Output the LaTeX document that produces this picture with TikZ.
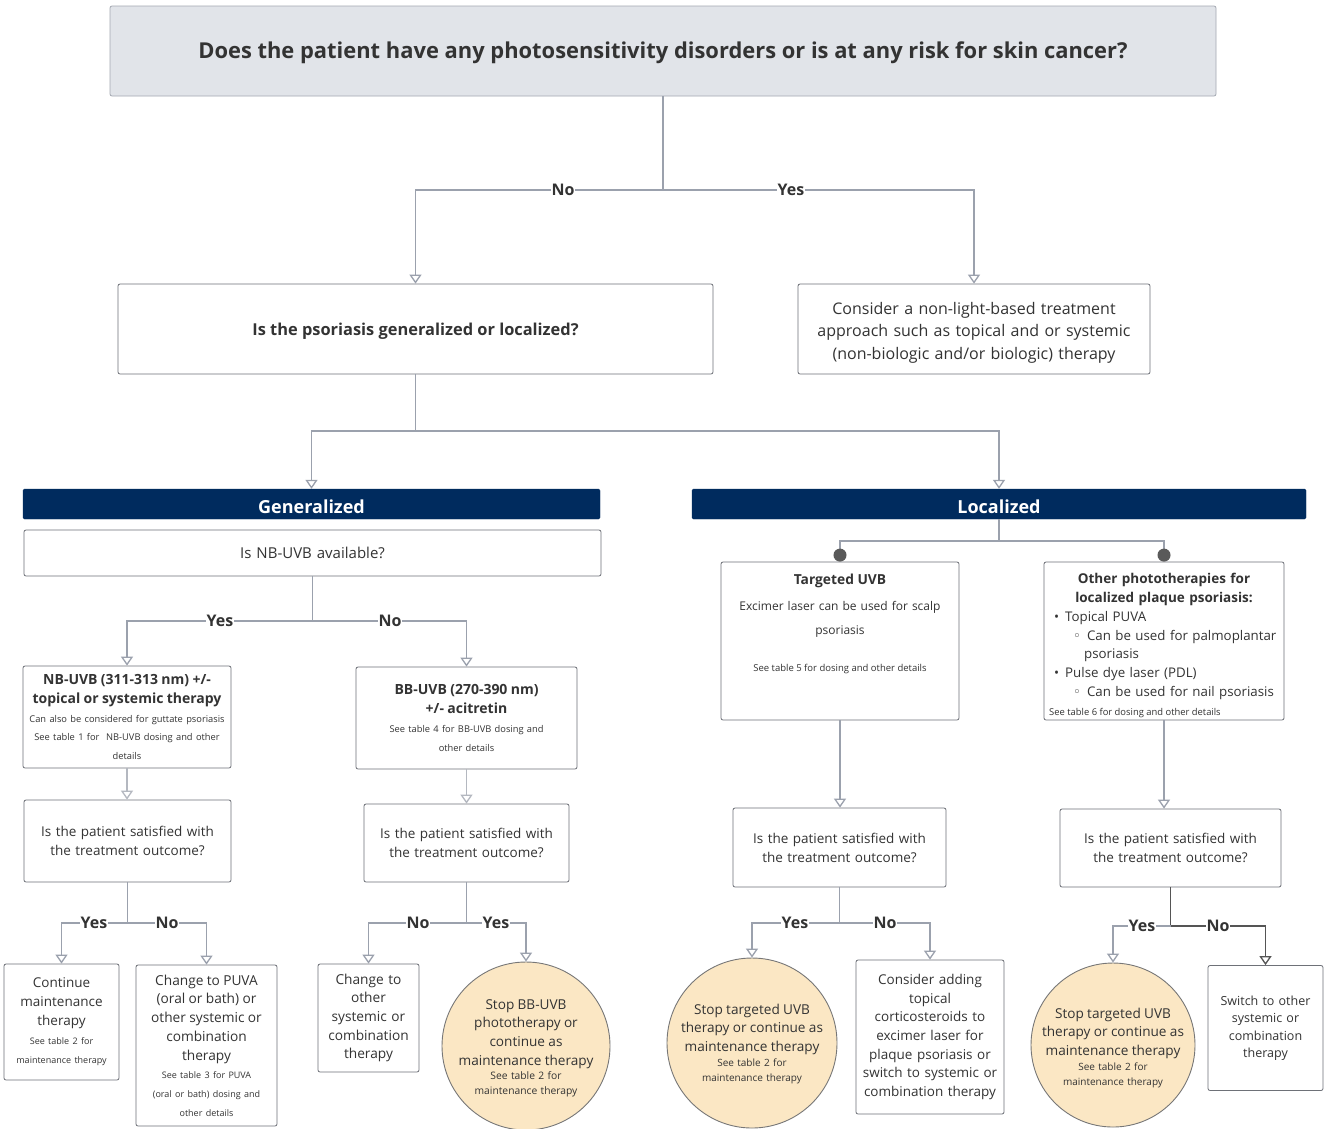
\documentclass[tikz,border=0pt]{standalone}
\usepackage{fontspec}
\setmainfont{Open Sans}
\newfontfamily\dejavu{DejaVu Sans}
\usetikzlibrary{arrows.meta}
\definecolor{linec}{HTML}{9BA1AD}
\definecolor{linel}{HTML}{B4B8C0}
\definecolor{lined}{HTML}{555555}
\definecolor{boxc}{HTML}{6E7178}
\definecolor{textc}{HTML}{333333}
\definecolor{topfill}{HTML}{E1E4E9}
\definecolor{topdraw}{HTML}{A3A8B1}
\definecolor{navy}{HTML}{002B5E}
\definecolor{peach}{HTML}{FBE7C4}
\definecolor{circc}{HTML}{777777}
\definecolor{dotc}{HTML}{5A5A5A}
\newcommand\fs[2]{\fontsize{#1}{#2}\selectfont}
\begin{document}
\begin{tikzpicture}[x=1pt,y=-1pt,
 box/.style={draw=boxc,line width=0.8pt,rounded corners=2pt,fill=white,text=textc,align=center,inner sep=0pt},
 bx/.style n args={2}{minimum width=#1pt,minimum height=#2pt,text width=#1pt-6pt},
 conn/.style={draw=linec,line width=1.3pt},
 arr/.style={-{Triangle[open,length=9pt,width=12pt]}},
 dotarr/.style={-{Circle[length=13pt,color=dotc]}},
 lbl/.style={fill=white,text=textc,font=\fs{16}{18}\bfseries,inner sep=1pt},
 txt/.style={text=textc,align=center,inner sep=0pt},
 hdr/.style={fill=navy,draw=navy,rounded corners=1.5pt,inner sep=0pt},
 hdrt/.style={text=white,font=\fs{18}{20}\bfseries,inner sep=0pt},
 circ/.style={circle,draw=circc,line width=0.9pt,fill=peach,inner sep=0pt}]
\useasboundingbox[fill=white] (0,0) rectangle (1324,1128);

% boxes
\node[box,bx={1106}{90},fill=topfill,draw=topdraw] (top) at (663,51) {};
\node[txt,font=\fs{21.9}{24}\bfseries] (topt) at (663,53) {Does the patient have any photosensitivity disorders or is at any risk for skin cancer?};
\node[box,bx={595}{90}] (psor) at (415.5,329) {};
\node[txt,font=\fs{16.4}{20}\bfseries] (psort) at (415.5,331.5) {Is the psoriasis generalized or localized?};
\node[box,bx={352}{90}] (nonlight) at (974,329) {};
\node[txt,text width=348pt,font=\fs{16}{22.5}] (nonlightt) at (974,332.5) {Consider a non-light-based treatment\\ approach such as topical and or systemic\\ (non-biologic and/or biologic) therapy};
\node[hdr,minimum width=577pt,minimum height=30pt] (gen) at (311.5,504) {};
\node[hdrt] (gent) at (311.5,506.5) {Generalized};
\node[hdr,minimum width=614pt,minimum height=30pt] (loc) at (999,504) {};
\node[hdrt] (loct) at (999,506.5) {Localized};
\node[box,bx={577}{46},font=\fs{15}{18}] (nbq) at (312.5,553) {Is NB-UVB available?};
\node[box,bx={208}{102}] (nb) at (127,717) {{\fs{14}{19}\bfseries NB-UVB (311-313 nm) +/-\\ topical or systemic therapy\par}{\fs{9.3}{18.5}Can also be considered for guttate psoriasis\\ See table 1 for\ \ NB-UVB dosing and other\\ details\par}};
\node[box,bx={221}{102}] (bb) at (466.5,718) {{\fs{14}{18.5}\bfseries BB-UVB (270-390 nm)\\ +/- acitretin\par}{\fs{9.3}{19}See table 4 for BB-UVB dosing and\\ other details\par}};
\node[box,bx={207}{82},font=\fs{13.5}{19}] (s1) at (127.5,841) {Is the patient satisfied with\\ the treatment outcome?};
\node[box,bx={205}{78},font=\fs{13.5}{19}] (s2) at (466.5,843) {Is the patient satisfied with\\ the treatment outcome?};
\node[box,bx={115}{116}] (cont) at (61.5,1022) {{\fs{13.5}{19}Continue\\ maintenance\\ therapy\par}{\fs{9}{19}See table 2 for\\ maintenance therapy\par}};
\node[box,bx={141}{161}] (puva) at (206.5,1045.5) {{\fs{13.7}{18.7}Change to PUVA\\ (oral or bath) or\\ other systemic or\\ combination\\ therapy\par}{\fs{9}{18.7}See table 3 for PUVA\\ (oral or bath) dosing and\\ other details\par}};
\node[box,bx={101}{108},font=\fs{13.7}{18.7}] (oth) at (368.5,1018) {Change to\\ other\\ systemic or\\ combination\\ therapy};
\node[circ,minimum size=168pt] (cbb) at (526,1046) {};
\node[txt,text width=160pt] (cbbt) at (526,1048) {{\fs{13.6}{18.7}Stop BB-UVB\\ phototherapy or\\ continue as\\ maintenance therapy\par}{\fs{10.3}{14.5}See table 2 for\\ maintenance therapy\par}};

% localized side
\node[box,bx={238}{158}] (tuvb) at (840,641) {};
\node[txt,font=\fs{13.8}{16}\bfseries] (tuvbt1) at (840,581) {Targeted UVB};
\node[txt,text width=232pt,font=\fs{12}{24}] (tuvbt2) at (840,619) {Excimer laser can be used for scalp\\ psoriasis};
\node[txt,font=\fs{9.5}{12}] (tuvbt3) at (840,668.5) {See table 5 for dosing and other details};
\node[box,bx={240}{158}] (oph) at (1164,641) {};
\node[txt,text width=232pt,font=\fs{13.5}{19}\bfseries] (opht) at (1164,589) {Other phototherapies for\\ localized plaque psoriasis:};
\node[txt,text width=232pt,align=left,anchor=north west,font=\fs{13.3}{18.75}] (ophl) at (1054,611) {\textbullet\hspace*{6pt}Topical PUVA\\ \hspace*{19pt}{\dejavu ◦}\hspace*{6pt}Can be used for palmoplantar\\ \hspace*{30pt}psoriasis\\ \textbullet\hspace*{6pt}Pulse dye laser (PDL)\\ \hspace*{19pt}{\dejavu ◦}\hspace*{6pt}Can be used for nail psoriasis};
\node[txt,anchor=west,font=\fs{9.4}{11}] (ophs) at (1049,713.5) {See table 6 for dosing and other details};
\node[box,bx={213}{79},font=\fs{13.5}{19}] (s3) at (839.5,847.5) {Is the patient satisfied with\\ the treatment outcome?};
\node[box,bx={221}{78},font=\fs{13.5}{19}] (s4) at (1170.5,848) {Is the patient satisfied with\\ the treatment outcome?};
\node[circ,minimum size=170pt] (ct1) at (752,1043) {};
\node[txt,text width=165pt] (ct1t) at (752,1044) {{\fs{13.6}{18.7}Stop targeted UVB\\ therapy or continue as\\ maintenance therapy\par}{\fs{10}{15}See table 2 for\\ maintenance therapy\par}};
\node[box,bx={148}{154},font=\fs{13.5}{18.7}] (cons) at (930,1037) {Consider adding\\ topical\\ corticosteroids to\\ excimer laser for\\ plaque psoriasis or\\ switch to systemic or\\ combination therapy};
\node[circ,minimum size=164pt] (ct2) at (1113,1045) {};
\node[txt,text width=160pt] (ct2t) at (1113,1048) {{\fs{13.6}{18.7}Stop targeted UVB\\ therapy or continue as\\ maintenance therapy\par}{\fs{10}{15}See table 2 for\\ maintenance therapy\par}};
\node[box,bx={115}{125},font=\fs{12.5}{17.5}] (sw) at (1265.5,1028) {Switch to other\\ systemic or\\ combination\\ therapy};

% connectors
\coordinate (j1) at (663,190);
\draw[conn] (top.south) -- (j1);
\draw[conn,arr] (j1) -| (psor.north);
\draw[conn,arr] (j1) -| (nonlight.north);
\node[lbl] (l1) at (563,190) {No};
\node[lbl] (l2) at (791,190) {Yes};

\coordinate (j2) at (415.5,431);
\draw[conn] (psor.south) -- (j2);
\draw[conn,arr] (j2) -| (gen.north);
\draw[conn,arr] (j2) -| (loc.north);

\coordinate (j3) at (312.5,621);
\draw[conn] (nbq.south) -- (j3);
\draw[conn,arr] (j3) -| (nb.north);
\draw[conn,arr] (j3) -| (bb.north);
\node[lbl] (l3) at (220,621) {Yes};
\node[lbl] (l4) at (390,621) {No};

\draw[conn,draw=linel,arr] (nb.south) -- (nb.south |- s1.north);
\draw[conn,draw=linel,arr] (bb.south) -- (bb.south |- s2.north);

\coordinate (j4) at (127.5,923);
\draw[conn] (s1.south) -- (j4);
\draw[conn,arr] (j4) -| (cont.north);
\draw[conn,arr] (j4) -| (puva.north);
\node[lbl] (l5) at (94,923) {Yes};
\node[lbl] (l6) at (167,923) {No};

\coordinate (j5) at (466.5,923);
\draw[conn] (s2.south) -- (j5);
\draw[conn,arr] (j5) -| (oth.north);
\draw[conn,arr] (j5) -| (cbb.north);
\node[lbl] (l7) at (418,923) {No};
\node[lbl] (l8) at (496,923) {Yes};

\coordinate (j6) at (999,541);
\draw[conn] (loc.south) -- (j6);
\draw[conn,dotarr] (j6) -| (tuvb.north);
\draw[conn,dotarr] (j6) -| (oph.north);

\draw[conn,arr] (tuvb.south) -- (tuvb.south |- s3.north);
\draw[conn,arr] (oph.south) -- (oph.south |- s4.north);

\coordinate (j7) at (839.5,923);
\draw[conn] (s3.south) -- (j7);
\draw[conn,arr] (j7) -| (ct1.north);
\draw[conn,arr] (j7) -| (cons.north);
\node[lbl] (l9) at (795,923) {Yes};
\node[lbl] (l10) at (885,923) {No};

\coordinate (j8) at (1170.5,926);
\draw[conn,draw=lined] (s4.south) -- (j8);
\draw[conn,arr] (j8) -| (ct2.north);
\draw[conn,draw=lined,arr] (j8) -| (sw.north);
\node[lbl] (l11) at (1142,926) {Yes};
\node[lbl] (l12) at (1218,926) {No};
\end{tikzpicture}
\end{document}
